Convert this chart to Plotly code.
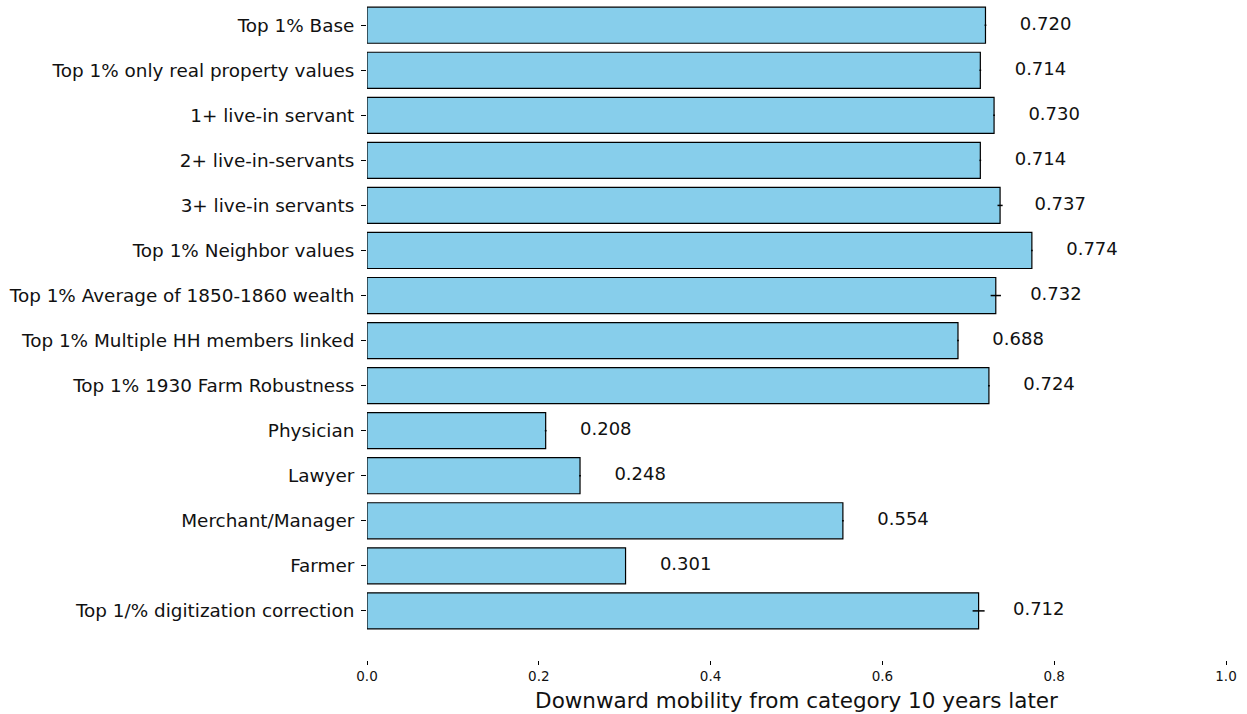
import plotly.graph_objects as go

# Categories listed top to bottom
categories = [
    "Top 1% Base",
    "Top 1% only real property values",
    "1+ live-in servant",
    "2+ live-in-servants",
    "3+ live-in servants",
    "Top 1% Neighbor values",
    "Top 1% Average of 1850-1860 wealth",
    "Top 1% Multiple HH members linked",
    "Top 1% 1930 Farm Robustness",
    "Physician",
    "Lawyer",
    "Merchant/Manager",
    "Farmer",
    "Top 1/% digitization correction",
]
mobility = [0.720, 0.714, 0.730, 0.714, 0.737, 0.774, 0.732,
            0.688, 0.724, 0.208, 0.248, 0.554, 0.301, 0.712]
errors = [0.001, 0.001, 0.001, 0.001, 0.003, 0.001, 0.006,
          0.001, 0.001, 0.001, 0.001, 0.001, 0.0005, 0.007]
x_ticks = [0.0, 0.2, 0.4, 0.6, 0.8, 1.0]

n = len(categories)
# bottom category sits at position 0, top at n-1
ypos = [n - 1 - i for i in range(n)]

FONT = "DejaVu Sans"

fig = go.Figure()
fig.add_trace(go.Bar(
    x=mobility,
    y=ypos,
    orientation="h",
    width=0.8,
    marker=dict(color="#87CEEB", line=dict(color="black", width=1.2)),
    error_x=dict(type="data", array=errors, color="black",
                 thickness=1.5, width=0),
    showlegend=False,
    hoverinfo="x+y",
))

# value labels to the right of each bar
fig.add_trace(go.Scatter(
    x=[v + 0.04 for v in mobility],
    y=ypos,
    mode="text",
    text=[f"{v:.3f}" for v in mobility],
    textposition="middle right",
    textfont=dict(family=FONT, size=18, color="#111111"),
    showlegend=False,
    hoverinfo="skip",
))

fig.update_layout(
    width=1247,
    height=714,
    margin=dict(l=367, r=21, t=0, b=54),
    plot_bgcolor="white",
    paper_bgcolor="white",
    font=dict(family=FONT, color="#111111"),
    xaxis=dict(
        range=[0, 1.0],
        tickvals=x_ticks,
        ticktext=[f"{t:.1f}" for t in x_ticks],
        ticks="outside",
        ticklen=4,
        tickwidth=1,
        tickcolor="black",
        tickfont=dict(family=FONT, size=13.5, color="#111111"),
        showgrid=False,
        showline=False,
        zeroline=False,
        title=dict(text="Downward mobility from category 10 years later",
                   font=dict(family=FONT, size=21.5, color="#111111"),
                   standoff=9),
    ),
    yaxis=dict(
        range=[-1.09, 13.56],
        tickvals=ypos,
        ticktext=categories,
        ticks="outside",
        ticklen=5,
        tickwidth=1,
        tickcolor="black",
        ticklabelstandoff=3,
        tickfont=dict(family=FONT, size=18.4, color="#111111"),
        showgrid=False,
        showline=False,
        zeroline=False,
    ),
)

fig.write_html("out.html")
